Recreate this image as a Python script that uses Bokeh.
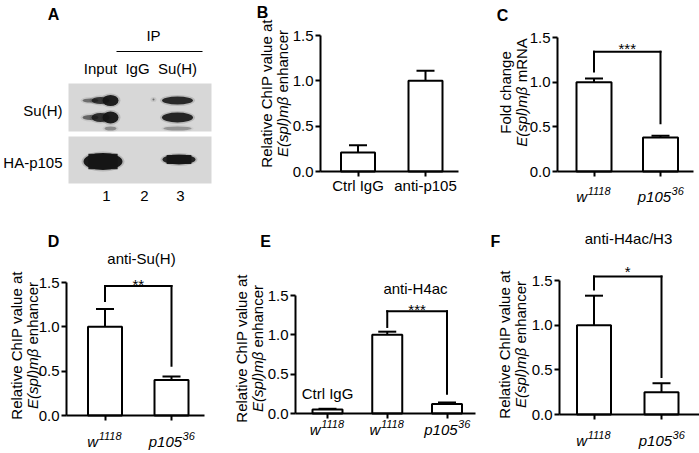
import math
from bokeh.plotting import figure
from bokeh.models import (Range1d, Label, Whisker, TeeHead, Arrow, FixedTicker,
                          PrintfTickFormatter, ColumnDataSource)
from bokeh.layouts import row, column
from bokeh.embed import file_html
from bokeh.resources import INLINE

FONT = "Liberation Sans"
FS = 15

# ---------------- data ----------------
blot_lanes = ["Input", "IgG", "Su(H)"]
blot_rows = ["Su(H)", "HA-p105"]
lane_numbers = ["1", "2", "3"]

b_cats = ["Ctrl IgG", "anti-p105"]
b_mean = [0.21, 1.00]
b_sem = [0.08, 0.11]

c_base = ["w", "p105"]
c_sup = ["1118", "36"]
c_mean = [1.00, 0.38]
c_sem = [0.04, 0.02]

d_mean = [1.00, 0.40]
d_sem = [0.20, 0.04]

e_base = ["w", "w", "p105"]
e_sup = ["1118", "1118", "36"]
e_mean = [0.05, 1.00, 0.12]
e_sem = [0.01, 0.04, 0.02]

f_mean = [1.00, 0.25]
f_sem = [0.33, 0.10]

y_ticks = [0, 0.5, 1.0, 1.5]

# significance brackets: (x1, x2, top, left end, right end, label)
c_sig = (1, 2, 1.34, 1.12, 0.54, "***")
d_sig = (1, 2, 1.46, 1.29, 0.56, "**")
e_sig = (2, 3, 1.30, 1.10, 0.25, "***")
f_sig = (1, 2, 1.545, 1.40, 0.42, "*")

# blot bands (panel-A pixel coordinates): x, y, w, h, alpha
band_x = [90, 100, 110, 90, 100, 110, 110, 177, 177, 177, 102.5, 178.5, 153]
band_y = [100, 100, 100, 117, 117, 117, 128, 100, 117, 128, 161, 159, 99]
band_w = [16, 18, 16, 16, 18, 16, 12, 31, 31, 28, 39, 33, 2]
band_h = [4, 7, 11, 5, 9, 12, 4, 8, 10, 4, 17, 10, 2]
band_a = [0.5, 0.8, 0.95, 0.55, 0.85, 0.95, 0.35, 0.88, 0.9, 0.3, 0.97, 0.9, 0.5]

# ---------------- helpers ----------------
CW = {' ': 278, '(': 333, ')': 333, 'E': 667, 's': 500, 'p': 556, 'l': 222,
      'm': 833, 'e': 556, 'n': 556, 'h': 556, 'a': 556, 'c': 500, 'r': 333,
      'R': 722, 'N': 722, 'A': 667, 'w': 722, 'β': 575}


def tw(s, size):
    return sum(CW.get(ch, 556) for ch in s) * size / 1000.0


def lab(p, org, X, Y, text, size=FS, style="normal", align="center",
        baseline="middle", angle=0.0):
    ox, oy = org
    p.add_layout(Label(x=p.x_range.start, y=p.y_range.end,
                       x_offset=X - ox, y_offset=-(Y - oy), text=text,
                       text_font=FONT, text_font_size=f"{size}px",
                       text_font_style=style, text_align=align,
                       text_baseline=baseline, angle=angle,
                       text_color="black"))


def ylab(p, org, X1, X2, Yc, line1, ital, rest, size=FS):
    lab(p, org, X1, Yc, line1, size=size, angle=math.pi / 2)
    wi = tw(ital, size)
    wsp = tw(" ", size)
    wr = tw(rest, size)
    start = Yc + (wi + wsp + wr) / 2
    lab(p, org, X2, start, ital, size=size, style="italic", align="left",
        angle=math.pi / 2)
    lab(p, org, X2, start - wi - wsp, rest, size=size, align="left",
        angle=math.pi / 2)


def panel(ox, oy, W, H, ax_x, ax_end, y0, y15, centers, bar_px):
    n = len(centers)
    sx = (centers[-1] - centers[0]) / (n - 1)
    sy = (y0 - y15) / 1.5

    def dx(px):
        return 1 + (px - centers[0]) / sx

    def dy(py):
        return (y0 - py) / sy

    p = figure(width=W, height=H, x_range=Range1d(dx(ox), dx(ox + W)),
               y_range=Range1d(dy(oy + H), dy(oy)), output_backend="svg",
               toolbar_location=None, min_border=0)
    p.title.visible = False
    p.outline_line_color = None
    p.grid.visible = False
    p.background_fill_color = "white"
    p.border_fill_color = "white"
    for ax in (p.xaxis[0], p.yaxis[0]):
        ax.axis_line_width = 2
        ax.axis_line_color = "black"
        ax.major_tick_line_width = 2
        ax.major_tick_line_color = "black"
        ax.major_tick_in = 0
        ax.major_tick_out = 5
        ax.minor_tick_line_color = None
        ax.major_label_text_font = FONT
        ax.major_label_text_font_size = f"{FS}px"
        ax.major_label_text_color = "black"
    p.yaxis.ticker = FixedTicker(ticks=y_ticks)
    p.yaxis.formatter = PrintfTickFormatter(format="%.1f")
    p.yaxis.major_label_standoff = 2
    p.yaxis.fixed_location = dx(ax_x)
    p.yaxis.bounds = (0, 1.5)
    p.xaxis.ticker = FixedTicker(ticks=list(range(1, n + 1)))
    p.xaxis.major_label_standoff = 0
    p.xaxis.fixed_location = 0
    p.xaxis.bounds = (dx(ax_x), dx(ax_end))
    return p, (ox, oy), bar_px / sx


def bars(p, means, sems, bw):
    xs = list(range(1, len(means) + 1))
    p.vbar(x=xs, top=means, width=bw, fill_color="white",
           line_color="black", line_width=2)
    src = ColumnDataSource(dict(x=xs, lower=means,
                                upper=[m + s for m, s in zip(means, sems)]))
    p.add_layout(Whisker(base="x", lower="lower", upper="upper", source=src,
                         dimension="height", line_width=2, line_color="black",
                         upper_head=TeeHead(size=18, line_width=2,
                                            line_color="black"),
                         lower_head=None))


def bracket(p, sig, star_dy=3):
    x1, x2, top, yl, yr, txt = sig
    for (xa, ya, xb, yb) in [(x1, yl, x1, top), (x1, top, x2, top),
                             (x2, top, x2, yr)]:
        p.add_layout(Arrow(end=None, x_start=xa, y_start=ya, x_end=xb,
                           y_end=yb, line_width=2, line_color="black",
                           line_cap="square"))
    p.add_layout(Label(x=(x1 + x2) / 2, y=top, y_offset=star_dy, text=txt,
                       text_font=FONT, text_font_size=f"{FS}px",
                       text_align="center", text_baseline="alphabetic",
                       text_color="black"))


def xlabels(p, bases, sups, base_y_px):
    p.xaxis.major_label_overrides = {i + 1: "" for i in range(len(bases))}
    for i, (b, s) in enumerate(zip(bases, sups)):
        wb = tw(b, FS)
        ws = tw(s, 11)
        tot = wb + ws
        p.add_layout(Label(x=i + 1, y=0, x_offset=-tot / 2, y_offset=-base_y_px,
                           text=b, text_font=FONT, text_font_size=f"{FS}px",
                           text_font_style="italic", text_align="left",
                           text_baseline="alphabetic", text_color="black"))
        p.add_layout(Label(x=i + 1, y=0, x_offset=-tot / 2 + wb + 0.5,
                           y_offset=-base_y_px + 6, text=s, text_font=FONT,
                           text_font_size="11px", text_font_style="italic",
                           text_align="left", text_baseline="alphabetic",
                           text_color="black"))


# ---------------- panel A (blot) ----------------
pa = figure(width=230, height=220, x_range=Range1d(0, 230), y_range=Range1d(220, 0),
            output_backend="svg", toolbar_location=None,
            x_axis_type=None, y_axis_type=None, min_border=0)
pa.title.visible = False
pa.outline_line_color = None
pa.grid.visible = False
pa.background_fill_color = "white"
pa.border_fill_color = "white"
pa.quad(left=[68, 68], right=[211, 211], top=[83, 136], bottom=[131, 183],
        fill_color="#d7d7d7", line_color=None)
pa.ellipse(x=band_x, y=band_y, width=[w + 4 for w in band_w],
           height=[h + 3 for h in band_h], fill_color="#333333",
           fill_alpha=[a * 0.2 for a in band_a], line_color=None)
pa.ellipse(x=band_x, y=band_y, width=band_w, height=band_h,
           fill_color="#151515", fill_alpha=band_a, line_color=None)
pa.rect(x=band_x[10:12], y=band_y[10:12], width=[w * 0.75 for w in band_w[10:12]],
        height=[h * 0.92 for h in band_h[10:12]], fill_color="#151515",
        fill_alpha=0.95, line_color=None)
pa.segment(x0=[116], y0=[51], x1=[202], y1=[51], line_color="black", line_width=1.2)
fa = (0, 0)
lab(pa, fa, 53, 14, "A", size=16, style="bold")
lab(pa, fa, 153, 35, "IP")
for X, t in zip([100, 137, 177], blot_lanes):
    lab(pa, fa, X, 68, t)
for Y, t in zip([110, 162], blot_rows):
    lab(pa, fa, 62, Y, t, align="right")
for X, t in zip([106, 144, 180], lane_numbers):
    lab(pa, fa, X, 195, t)

# ---------------- panel B ----------------
pb, ob, wb_ = panel(230, 0, 250, 220, 320, 458, 171, 35, [357.5, 425], 34)
bars(pb, b_mean, b_sem, wb_)
pb.xaxis.major_label_overrides = {1: b_cats[0], 2: b_cats[1]}
lab(pb, ob, 262, 12, "B", size=16, style="bold")
ylab(pb, ob, 266, 282, 93, "Relative ChIP value at", "E(spl)mβ", "enhancer")

# ---------------- panel C ----------------
pc, oc, wc_ = panel(480, 0, 219, 220, 557, 693, 171, 37, [593.5, 660], 35)
bars(pc, c_mean, c_sem, wc_)
bracket(pc, c_sig, star_dy=3)
xlabels(pc, c_base, c_sup, 25)
lab(pc, oc, 502, 15, "C", size=16, style="bold")
ylab(pc, oc, 505, 521, 92, "Fold change", "E(spl)mβ", "mRNA")

# ---------------- panel D ----------------
pd_, od, wd_ = panel(0, 220, 230, 233, 66, 204, 415, 282, [104.5, 171], 34)
bars(pd_, d_mean, d_sem, wd_)
bracket(pd_, d_sig, star_dy=2)
xlabels(pd_, c_base, c_sup, 26)
lab(pd_, od, 53, 241, "D", size=16, style="bold")
lab(pd_, od, 141, 258, "anti-Su(H)")
ylab(pd_, od, 16, 32, 345, "Relative ChIP value at", "E(spl)mβ", "enhancer")

# ---------------- panel E ----------------
pe, oe, we_ = panel(230, 220, 250, 233, 295, 475, 413, 295, [327, 387, 446.5], 30)
bars(pe, e_mean, e_sem, we_)
bracket(pe, e_sig, star_dy=2)
xlabels(pe, e_base, e_sup, 16)
lab(pe, oe, 265, 241, "E", size=16, style="bold")
lab(pe, oe, 415, 288, "anti-H4ac")
lab(pe, oe, 327, 393, "Ctrl IgG")
ylab(pe, oe, 241, 257, 348, "Relative ChIP value at", "E(spl)mβ", "enhancer")

# ---------------- panel F ----------------
pf, of_, wf_ = panel(480, 220, 219, 233, 559, 699, 414, 280, [593.5, 661], 34)
bars(pf, f_mean, f_sem, wf_)
bracket(pf, f_sig, star_dy=5)
xlabels(pf, c_base, c_sup, 26)
lab(pf, of_, 495, 241, "F", size=16, style="bold")
lab(pf, of_, 628, 238, "anti-H4ac/H3")
ylab(pf, of_, 504, 520, 344, "Relative ChIP value at", "E(spl)mβ", "enhancer")

layout = column(row(pa, pb, pc), row(pd_, pe, pf))
open("out.html", "w").write(file_html(layout, INLINE))
